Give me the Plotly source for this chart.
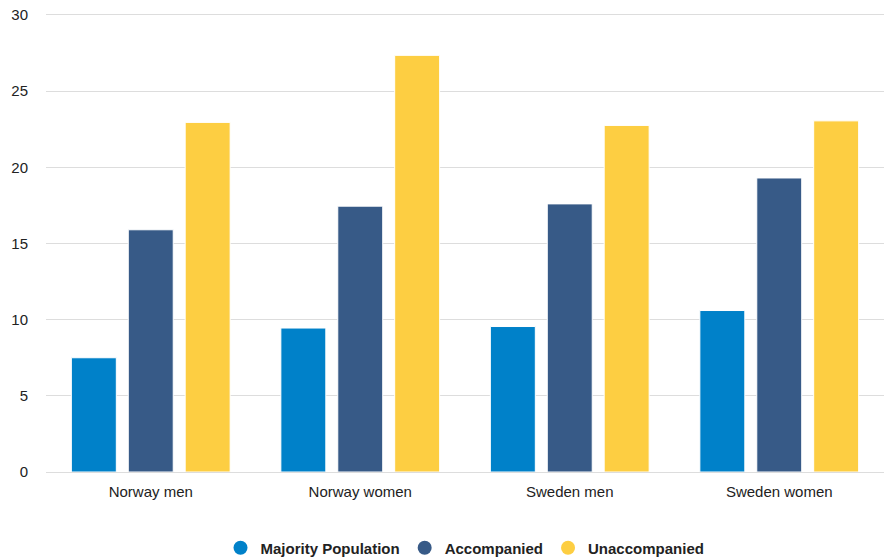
import plotly.graph_objects as go

categories = ["Norway men", "Norway women", "Sweden men", "Sweden women"]
series_names = ["Majority Population", "Accompanied", "Unaccompanied"]
majority = [7.5, 9.45, 9.55, 10.6]
accompanied = [15.9, 17.45, 17.6, 19.3]
unaccompanied = [22.95, 27.35, 22.75, 23.05]
y_ticks = [0, 5, 10, 15, 20, 25, 30]
colors = ["#0081C9", "#375A87", "#FDCE42"]

fig = go.Figure()
for name, vals, col in zip(series_names, [majority, accompanied, unaccompanied], colors):
    fig.add_trace(go.Bar(x=categories, y=vals, name=name, marker=dict(color=col, line=dict(color="white", width=1)),
                         showlegend=False))
for name, col in zip(series_names, colors):
    fig.add_trace(go.Scatter(x=[None], y=[None], mode="markers", name=name,
                             marker=dict(symbol="circle", size=14, color=col)))

fig.update_layout(
    width=884, height=558,
    margin=dict(l=46, r=0, t=13, b=86, autoexpand=False),
    paper_bgcolor="white", plot_bgcolor="white",
    barmode="group", bargap=0.185, bargroupgap=0.21,
    font=dict(family="Liberation Sans, Arial, sans-serif", size=15, color="#222222"),
    xaxis=dict(showgrid=False, showline=False, ticks="", ticklabelstandoff=9, automargin=False),
    yaxis=dict(range=[0, 30.13], tickvals=y_ticks, gridcolor="#dddddd", gridwidth=1, automargin=False,
               zeroline=True, zerolinecolor="#dddddd", zerolinewidth=1, ticklabelstandoff=17,
               ticklabeloverflow="allow"),
    legend=dict(orientation="h", x=0.5, xanchor="center", y=-0.1656, yanchor="middle",
                font=dict(size=15, color="#222222", weight="bold"), itemwidth=30),
)
fig.write_html("out.html", config={"displayModeBar": False},
               post_script="document.body.style.margin='0';")
